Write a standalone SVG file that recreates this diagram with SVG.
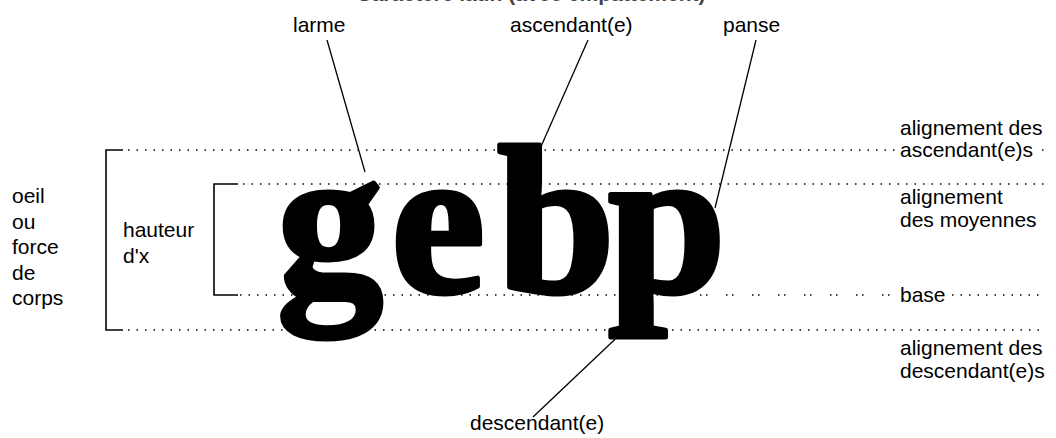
<svg xmlns="http://www.w3.org/2000/svg" width="1056" height="438" viewBox="0 0 1056 438">
<style>
.lbl{font-family:"Liberation Sans",Arial,sans-serif;font-size:21px;fill:#000}
.dot{stroke:#000;stroke-width:1.5;stroke-dasharray:1.5 7;fill:none}
.pair{stroke:#000;stroke-width:1.5;stroke-dasharray:1.5 4.5 1.5 18.5;fill:none}
.br{stroke:#000;stroke-width:1.6;fill:none}
.con{stroke:#000;stroke-width:1.3;fill:none}
.glyph{font-family:"Liberation Serif","Times New Roman",serif;font-weight:bold;font-size:212px;fill:#000;stroke:#000;stroke-width:5;stroke-linejoin:round}
</style>
<rect width="1056" height="438" fill="#fff"/>
<g id="title"><text x="531" y="1" text-anchor="middle" font-family="Liberation Sans, Arial, sans-serif" font-weight="bold" font-size="21" fill="#444">Caractère latin (avec empattement)</text></g>
<g id="guides">
<path class="dot" d="M128 150 H897"/>
<rect x="1042" y="149.2" width="1.5" height="1.5" fill="#000"/>
<path class="dot" d="M243 184 H1046"/>
<path class="dot" d="M240 295 H672"/>
<path class="pair" d="M674 295 H893"/>
<path class="dot" d="M952 295 H1044"/>
<path class="dot" d="M128 330 H1046"/>
<path class="br" d="M123 150 H106 V330 H123"/>
<path class="br" d="M238 184 H214 V295 H238"/>
</g>
<g id="glyphs"><text class="glyph" x="277 391 497 608" y="292">gebp</text></g>
<g id="connectors">
<path class="con" d="M327 40 L365 172"/>
<path class="con" d="M588 40 L539 151"/>
<path class="con" d="M756 40 L715 208"/>
<path class="con" d="M629 326 L533 417"/>
</g>
<g id="label-larme"><text class="lbl" x="293" y="31.5">larme</text></g>
<g id="label-ascendant"><text class="lbl" x="510" y="31.5">ascendant(e)</text></g>
<g id="label-panse"><text class="lbl" x="723" y="31.5">panse</text></g>
<g id="label-oeil"><text class="lbl" x="12" y="203.3">oeil</text><text class="lbl" x="12" y="228.8">ou</text><text class="lbl" x="12" y="254.3">force</text><text class="lbl" x="12" y="279.8">de</text><text class="lbl" x="12" y="305.3">corps</text></g>
<g id="label-hauteur"><text class="lbl" x="123" y="237.3">hauteur</text><text class="lbl" x="123" y="262.7">d'x</text></g>
<g id="label-asc-align"><text class="lbl" x="900" y="134.5">alignement des</text><text class="lbl" x="900" y="156.5">ascendant(e)s</text></g>
<g id="label-moy"><text class="lbl" x="900" y="204">alignement</text><text class="lbl" x="900" y="227">des moyennes</text></g>
<g id="label-base"><text class="lbl" x="900" y="302">base</text></g>
<g id="label-desc-align"><text class="lbl" x="900" y="355">alignement des</text><text class="lbl" x="900" y="378">descendant(e)s</text></g>
<g id="label-descendant"><text class="lbl" x="470" y="430">descendant(e)</text></g>
</svg>
